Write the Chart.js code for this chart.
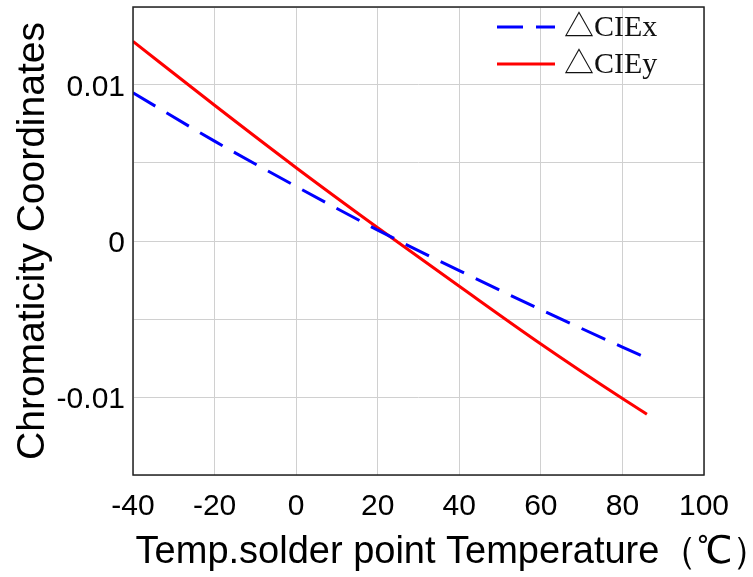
<!DOCTYPE html>
<html>
<head>
<meta charset="utf-8">
<script src="https://cdn.jsdelivr.net/npm/chart.js@4.4.1/dist/chart.umd.min.js"></script>
<style>
  html, body { margin: 0; padding: 0; background: #fff; }
  #wrap { width: 753px; height: 577px; }
</style>
</head>
<body>
<div id="wrap"><canvas id="chart" width="753" height="577"></canvas></div>
<script>
const TEMPS = [-40, -20, 0, 20, 40, 60, 80, 86];
const CIE_X = [0.0095, 0.0064, 0.0035, 0.0007, -0.0019, -0.0044, -0.0068, -0.0075];
const CIE_Y = [0.0128, 0.0087, 0.0047, 0.00085, -0.0029, -0.0066, -0.0101, -0.0111];
const SERIES_LABELS = ["\u25B3CIEx", "\u25B3CIEy"];
const Y_LABELS = [0.01, 0, -0.01];
const X_TITLE = "Temp.solder point Temperature\uFF08\u2103\uFF09";

const toPoints = (vals) => TEMPS.map((t, i) => ({ x: t, y: vals[i] }));

// frame around the plot, legend inside the plot, x title under it
const framePlugin = {
  id: "frame",
  afterDraw(chart) {
    const { ctx, chartArea: a } = chart;
    ctx.save();
    ctx.strokeStyle = "#222";
    ctx.lineWidth = 1.5;
    ctx.strokeRect(a.left, a.top, a.right - a.left, a.bottom - a.top);

    const x0 = 497, x1 = 555;
    chart.data.datasets.forEach((ds, i) => {
      const y = 27 + i * 37;
      ctx.beginPath();
      ctx.strokeStyle = ds.borderColor;
      ctx.lineWidth = ds.borderWidth;
      ctx.setLineDash(ds.borderDash || []);
      ctx.moveTo(x0, y);
      ctx.lineTo(x1, y);
      ctx.stroke();
      ctx.setLineDash([]);
      ctx.fillStyle = "#111";
      ctx.font = "30px 'Liberation Serif', 'Noto Sans CJK SC', serif";
      ctx.textBaseline = "middle";
      ctx.fillText(ds.label, 564, y + 1);
    });

    ctx.fillStyle = "#000";
    ctx.font = "38px 'Liberation Sans', Arial";
    ctx.textBaseline = "alphabetic";
    ctx.textAlign = "center";
    ctx.fillText(X_TITLE, 453, 563);
    ctx.restore();
  },
};

function noEdgePadding(scale) {
  scale.paddingTop = 0;
  scale.paddingBottom = 0;
  scale.paddingLeft = 0;
  scale.paddingRight = 0;
}

new Chart(document.getElementById("chart"), {
  type: "line",
  data: {
    datasets: [
      {
        label: SERIES_LABELS[0],
        data: toPoints(CIE_X),
        borderColor: "#0000ff",
        borderWidth: 3,
        borderDash: [26, 13],
        pointRadius: 0,
        cubicInterpolationMode: "monotone",
        fill: false,
      },
      {
        label: SERIES_LABELS[1],
        data: toPoints(CIE_Y),
        borderColor: "#ff0000",
        borderWidth: 3,
        pointRadius: 0,
        cubicInterpolationMode: "monotone",
        fill: false,
      },
    ],
  },
  options: {
    responsive: false,
    animation: false,
    layout: { padding: { top: 7, right: 49, left: 0, bottom: 0 } },
    plugins: { legend: { display: false }, tooltip: { enabled: false } },
    scales: {
      x: {
        type: "linear",
        min: -40,
        max: 100,
        ticks: {
          stepSize: 20,
          color: "#000",
          padding: 14,
          maxRotation: 0,
          font: { family: "'Liberation Sans', Arial", size: 30 },
        },
        grid: { color: "#d0d0d0", drawTicks: false },
        border: { display: false },
        afterFit(scale) {
          noEdgePadding(scale);
          scale.height = 102;
        },
      },
      y: {
        min: -0.015,
        max: 0.015,
        ticks: {
          stepSize: 0.005,
          color: "#000",
          padding: 8,
          labelOffset: 3,
          font: { family: "'Liberation Sans', Arial", size: 30 },
          callback(v) {
            const r = Math.round(v * 1000) / 1000;
            return Y_LABELS.includes(r) ? String(r) : "";
          },
        },
        grid: { color: "#d0d0d0", drawTicks: false },
        border: { display: false },
        title: {
          display: true,
          text: "Chromaticity Coordinates",
          color: "#000",
          padding: { top: 10, bottom: 0 },
          font: { family: "'Liberation Sans', Arial", size: 39 },
        },
        afterFit(scale) {
          noEdgePadding(scale);
          scale.width = 133;
        },
      },
    },
  },
  plugins: [framePlugin],
});
</script>
</body>
</html>
